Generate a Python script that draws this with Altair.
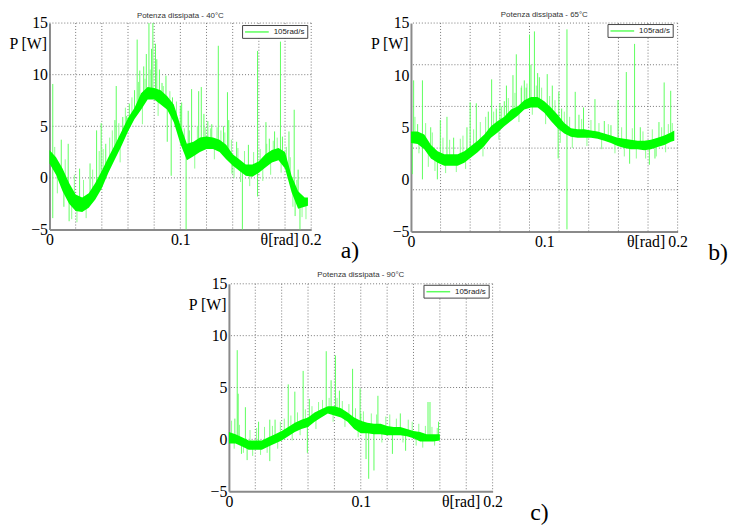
import altair as alt
import pandas as pd

# ---------------- data ----------------
THETA_AB = [0.000, 0.005, 0.010, 0.015, 0.020, 0.025, 0.030, 0.035, 0.040, 0.045,
            0.050, 0.055, 0.060, 0.065, 0.070, 0.075, 0.080, 0.085, 0.090, 0.095,
            0.100, 0.105, 0.110, 0.115, 0.120, 0.125, 0.130, 0.135, 0.140, 0.145,
            0.150, 0.155, 0.160, 0.165, 0.170, 0.175, 0.180, 0.185, 0.190, 0.195, 0.1975]
THETA_C = [0.000, 0.005, 0.010, 0.015, 0.020, 0.025, 0.030, 0.035, 0.040, 0.045,
           0.050, 0.055, 0.060, 0.065, 0.070, 0.075, 0.080, 0.085, 0.090, 0.095,
           0.100, 0.105, 0.110, 0.115, 0.120, 0.125, 0.130, 0.135, 0.140, 0.145,
           0.150, 0.155, 0.160]

# panel a) 40 °C : lower / upper edge of the dense noisy band
A_LO = [1.4, 0.3, -1.3, -2.5, -3.2, -3.3, -2.9, -2.1, -1.0, 0.5,
        1.8, 3.1, 4.5, 5.7, 6.6, 7.6, 7.6, 7.1, 6.6, 5.4,
        3.3, 1.7, 2.1, 2.5, 2.8, 2.8, 2.5, 1.8, 1.2, 0.7,
        0.2, 0.1, 0.5, 1.0, 1.5, 1.7, 0.9, -1.4, -3.0, -2.8, -2.7]
A_HI = [2.7, 2.0, 0.9, -0.5, -1.6, -1.9, -1.5, -0.5, 0.7, 2.0,
        3.2, 4.5, 5.8, 6.8, 8.2, 8.8, 8.7, 8.5, 7.9, 7.1,
        5.1, 3.3, 3.5, 3.9, 4.0, 3.9, 3.7, 3.2, 2.3, 1.8,
        1.3, 1.3, 1.6, 2.3, 2.7, 2.9, 2.5, 0.2, -1.3, -1.9, -1.9]
# isolated spikes: (theta, foot, tip)
A_SPIKES = [(0.0025, 1.2, 9.1), (0.0025, 1.2, -3.9), (0.009, 0.0, 3.7), (0.0143, -1.5, 3.3),
            (0.015, -1.5, -4.2), (0.011, -0.5, -2.8), (0.023, -2.6, 0.9), (0.031, -2.2, 1.4),
            (0.036, -1.2, 4.6), (0.0395, -0.2, 5.3), (0.043, 0.6, 3.3), (0.050, 2.4, 5.6),
            (0.051, 2.5, 8.9), (0.056, 3.8, 5.9), (0.059, 4.8, 6.0), (0.061, 5.2, 7.2),
            (0.065, 6.2, 8.5), (0.067, 6.2, 13.4), (0.069, 6.8, 10.4), (0.072, 7.6, 10.8),
            (0.074, 8.0, 12.0), (0.076, 8.2, 15.0), (0.078, 8.2, 12.5), (0.079, 8.2, 15.0),
            (0.081, 8.2, 13.0), (0.082, 8.0, 11.5), (0.084, 7.9, 10.5), (0.086, 7.8, 9.2),
            (0.089, 7.4, 9.9), (0.090, 7.2, 3.5), (0.093, 6.6, 0.2), (0.094, 6.5, 7.8),
            (0.100, 4.2, 7.0), (0.101, 3.8, 7.3), (0.1044, 2.5, -5.0), (0.106, 2.5, 6.5),
            (0.1086, 2.7, 8.6), (0.114, 3.1, 8.4), (0.116, 3.2, 8.8), (0.118, 3.3, 6.2),
            (0.121, 3.4, 5.5), (0.124, 3.4, 5.2), (0.129, 3.2, 12.8), (0.133, 2.8, 5.0),
            (0.136, 2.4, 8.3), (0.137, 2.2, 5.6), (0.1395, 1.9, 0.4), (0.143, 1.5, 3.5),
            (0.1474, 1.0, -5.0), (0.152, 0.8, 3.2), (0.159, 1.0, 12.3), (0.159, 1.0, -1.8),
            (0.1654, 1.6, 5.4), (0.168, 1.8, 3.8), (0.172, 2.0, 4.5), (0.1765, 2.3, 13.2),
            (0.178, 2.0, 4.0), (0.183, 0.0, 4.5), (0.187, -1.0, 6.6), (0.1877, -1.5, -3.7),
            (0.190, -2.0, 0.8), (0.1914, -2.2, -5.0)]
# small noise excursions around the band: (theta, foot, tip)
A_FRINGE = [(0.004, 1.0, 3.0), (0.006, 0.5, -1.5), (0.012, -1.0, 1.8), (0.017, -2.0, -4.0),
            (0.019, -2.5, 0.3), (0.021, -2.5, -4.3), (0.026, -2.6, -0.2), (0.028, -2.5, -3.9),
            (0.033, -1.8, 0.8), (0.038, -0.5, 2.6), (0.041, 0.0, 2.8), (0.046, 1.2, 3.9),
            (0.048, 1.8, 4.6), (0.053, 3.0, 5.3), (0.054, 3.4, 1.5), (0.058, 4.5, 6.8),
            (0.063, 5.6, 7.8), (0.068, 6.5, 9.3), (0.071, 7.2, 5.2), (0.073, 7.8, 9.6),
            (0.077, 8.0, 10.5), (0.083, 8.0, 6.0), (0.087, 7.5, 8.9), (0.092, 6.8, 8.4),
            (0.097, 5.5, 7.4), (0.103, 2.5, 4.8), (0.107, 2.5, 4.6), (0.111, 2.8, 0.9),
            (0.113, 2.9, 5.0), (0.119, 3.3, 4.9), (0.123, 3.4, 4.8), (0.126, 3.3, 1.8),
            (0.128, 3.2, 4.9), (0.131, 3.0, 4.6), (0.134, 2.6, 4.4), (0.139, 2.0, 3.7),
            (0.141, 1.7, 0.0), (0.144, 1.3, 2.9), (0.146, 1.2, -0.4), (0.149, 0.8, 2.6),
            (0.153, 0.7, -0.8), (0.156, 0.7, 2.5), (0.161, 1.0, 2.8), (0.163, 1.3, -0.3),
            (0.166, 1.6, 3.3), (0.169, 1.9, 0.3), (0.171, 2.1, 3.6), (0.174, 2.3, 3.9),
            (0.177, 2.2, 0.5), (0.181, 1.5, 3.0), (0.184, -0.5, 2.0), (0.186, -1.0, -2.8),
            (0.189, -2.0, -0.2), (0.193, -2.4, -3.8), (0.196, -2.3, -4.0)]

# panel b) 65 °C
B_LO = [3.5, 3.4, 2.9, 2.0, 1.6, 1.3, 1.3, 1.3, 1.6, 2.1,
        2.6, 3.2, 4.0, 4.5, 5.1, 5.6, 6.1, 6.7, 6.9, 6.9,
        6.4, 5.6, 4.9, 4.4, 4.1, 4.0, 4.0, 4.0, 3.9, 3.7,
        3.5, 3.2, 3.0, 2.9, 2.9, 2.8, 2.9, 3.1, 3.3, 3.6, 3.7]
B_HI = [4.6, 4.6, 4.3, 3.3, 2.7, 2.4, 2.4, 2.4, 2.7, 3.2,
        3.7, 4.3, 5.1, 5.6, 6.0, 6.7, 7.0, 7.6, 7.9, 7.9,
        7.5, 6.9, 6.2, 5.4, 4.9, 4.8, 4.8, 4.7, 4.6, 4.4,
        4.2, 4.0, 3.9, 3.8, 3.7, 3.7, 3.8, 4.0, 4.2, 4.5, 4.7]
B_SPIKES = [(0.001, 4.0, 0.5), (0.002, 4.0, 9.5), (0.005, 4.0, 5.3), (0.0086, 3.6, 9.5),
            (0.0086, 3.6, 0.0), (0.0148, 2.7, 5.0), (0.0198, 2.2, 0.0), (0.022, 2.0, 5.7),
            (0.027, 1.9, 6.0), (0.032, 1.9, 4.0), (0.042, 2.4, 5.0), (0.0444, 2.7, 7.4),
            (0.049, 3.2, 7.3), (0.058, 4.3, 6.5), (0.0605, 4.6, 9.6), (0.064, 4.9, 6.8),
            (0.0667, 5.2, 7.3), (0.070, 5.5, 7.5), (0.0716, 5.8, 9.0), (0.0765, 6.2, 10.0),
            (0.079, 6.5, 12.0), (0.0827, 7.0, 8.8), (0.085, 7.1, 9.5), (0.0864, 7.2, 8.8),
            (0.0889, 7.4, 13.9), (0.090, 7.4, 11.0), (0.0926, 7.4, 14.2), (0.095, 7.4, 10.2),
            (0.0963, 7.3, 9.8), (0.1022, 6.6, 10.1), (0.106, 6.2, 9.0), (0.1104, 5.5, 2.0),
            (0.1109, 5.4, 8.4), (0.113, 5.0, 6.8), (0.117, 4.7, 14.4), (0.117, 4.7, -4.8),
            (0.1232, 4.4, 8.4), (0.126, 4.4, 6.2), (0.1294, 4.4, 6.9), (0.138, 4.2, 7.7),
            (0.145, 4.0, 5.6), (0.150, 3.8, 5.2), (0.1553, 3.6, 7.6), (0.1615, 3.4, 10.3),
            (0.164, 3.4, 1.5), (0.1677, 3.3, 13.0), (0.172, 3.3, 5.0), (0.1788, 3.2, 1.4),
            (0.183, 3.4, 2.0), (0.186, 3.5, 5.5), (0.1899, 3.7, 9.3), (0.1948, 4.0, 8.5)]
B_FRINGE = [(0.003, 4.0, 6.0), (0.006, 4.0, 2.5), (0.011, 3.6, 5.4), (0.013, 3.0, 1.2),
            (0.016, 2.6, 4.5), (0.018, 2.3, 0.8), (0.024, 1.9, 4.0), (0.026, 1.9, 0.6),
            (0.029, 1.9, 3.8), (0.034, 1.9, 0.7), (0.037, 2.0, 3.9), (0.039, 2.1, 4.2),
            (0.041, 2.2, 1.0), (0.047, 3.0, 4.8), (0.052, 3.4, 5.5), (0.054, 3.7, 2.2),
            (0.056, 4.0, 6.0), (0.062, 4.8, 6.5), (0.066, 5.1, 3.8), (0.068, 5.4, 7.0),
            (0.073, 5.9, 7.8), (0.078, 6.4, 8.3), (0.081, 6.8, 5.5), (0.083, 7.0, 9.0),
            (0.087, 7.3, 9.2), (0.091, 7.4, 6.2), (0.094, 7.4, 9.0), (0.098, 7.2, 8.8),
            (0.101, 6.8, 5.3), (0.104, 6.4, 8.0), (0.108, 5.8, 7.6), (0.112, 5.1, 3.5),
            (0.115, 4.9, 6.5), (0.119, 4.6, 6.0), (0.121, 4.5, 3.0), (0.128, 4.4, 5.8),
            (0.132, 4.4, 3.2), (0.135, 4.3, 5.7), (0.141, 4.1, 5.4), (0.143, 4.1, 2.9),
            (0.148, 3.9, 5.3), (0.153, 3.7, 2.5), (0.158, 3.5, 5.0), (0.160, 3.4, 2.2),
            (0.166, 3.3, 4.9), (0.169, 3.3, 2.0), (0.174, 3.2, 4.6), (0.176, 3.2, 2.0),
            (0.181, 3.3, 4.8), (0.184, 3.4, 2.2), (0.188, 3.6, 5.0), (0.191, 3.8, 2.6),
            (0.193, 3.9, 5.3), (0.196, 4.1, 5.4)]

# panel c) 90 °C
C_LO = [-0.4, -0.4, -0.7, -1.0, -1.0, -1.0, -0.7, -0.4, -0.1, 0.3,
        0.7, 1.0, 1.2, 1.7, 2.1, 2.5, 2.3, 2.1, 1.7, 1.0,
        0.6, 0.6, 0.5, 0.5, 0.4, 0.4, 0.4, 0.3, 0.1, -0.2,
        -0.2, -0.2, -0.1]
C_HI = [0.7, 0.5, 0.2, -0.1, -0.1, -0.1, 0.2, 0.5, 0.8, 1.2,
        1.6, 1.9, 2.1, 2.6, 2.9, 3.2, 3.2, 3.0, 2.6, 2.1,
        1.8, 1.6, 1.5, 1.5, 1.3, 1.2, 1.2, 1.0, 0.8, 0.7,
        0.5, 0.5, 0.5]
C_SPIKES = [(0.0045, 0.2, 2.0), (0.0063, 0.1, 8.6), (0.007, 0.1, 4.4), (0.0095, -0.2, -1.4),
            (0.0125, -0.4, 3.1), (0.0138, -0.5, -2.0), (0.0225, -0.5, 1.7), (0.031, -0.3, 1.9),
            (0.031, -0.3, -2.1), (0.035, 0.0, 1.9), (0.045, 0.7, 5.3), (0.050, 1.1, 4.6),
            (0.0563, 1.5, 6.6), (0.0595, 1.7, -1.3), (0.061, 1.7, 3.9), (0.0738, 2.8, 8.5),
            (0.0775, 2.8, 5.7), (0.0808, 2.8, 8.1), (0.0838, 2.6, 4.7), (0.0938, 1.7, 6.8),
            (0.0995, 1.2, 4.9), (0.100, 1.2, 2.5), (0.104, 1.1, -1.9), (0.106, 1.1, -3.8),
            (0.110, 1.0, -3.0), (0.113, 1.0, 4.2), (0.124, 0.8, -1.4), (0.130, 0.8, 2.5),
            (0.134, 0.7, -1.1), (0.151, 0.2, 3.6), (0.1525, 0.2, 3.6), (0.159, 0.3, 1.7)]
C_FRINGE = [(0.002, 0.2, 1.8), (0.004, 0.1, -0.9), (0.008, -0.1, 1.4), (0.011, -0.3, -1.3),
            (0.016, -0.5, 0.9), (0.018, -0.5, -1.6), (0.021, -0.5, 1.1), (0.024, -0.5, -1.5),
            (0.027, -0.4, 1.2), (0.029, -0.4, -1.3), (0.033, -0.2, 1.3), (0.037, 0.1, -0.9),
            (0.039, 0.2, 1.7), (0.042, 0.4, 2.0), (0.047, 0.9, 2.3), (0.048, 1.0, -0.1),
            (0.052, 1.2, 2.6), (0.054, 1.4, 0.4), (0.058, 1.6, 2.9), (0.063, 1.9, 3.2),
            (0.066, 2.1, 1.0), (0.068, 2.3, 3.6), (0.071, 2.5, 3.8), (0.076, 2.8, 4.0),
            (0.079, 2.8, 1.7), (0.082, 2.7, 4.0), (0.086, 2.5, 3.7), (0.088, 2.3, 1.2),
            (0.091, 2.1, 3.4), (0.096, 1.5, 3.0), (0.098, 1.3, 0.2), (0.102, 1.2, 2.7),
            (0.108, 1.1, 2.5), (0.112, 1.0, 2.4), (0.116, 1.0, -0.3), (0.119, 0.9, 2.2),
            (0.122, 0.9, 2.4), (0.127, 0.8, 2.0), (0.132, 0.8, -0.3), (0.136, 0.7, 1.9),
            (0.139, 0.6, 1.7), (0.142, 0.5, -0.6), (0.144, 0.3, 1.5), (0.147, 0.2, -0.8),
            (0.149, 0.2, 1.3), (0.154, 0.2, 1.2), (0.156, 0.2, -0.6), (0.158, 0.2, 1.1)]

SERIES = "105rad/s"
GRID_X_STD = [0.02, 0.04, 0.06, 0.08, 0.10, 0.12, 0.14, 0.16, 0.18, 0.20]
GRID_Y_STD = [0, 5, 10, 15]
GRID_X_B = [0.0222, 0.0444, 0.0667, 0.0889, 0.1111, 0.1333, 0.1556, 0.1778, 0.2000]
GRID_Y_B = [-1, 3, 7, 11, 15]

GREEN = "#00ff00"
SPIKE_GREEN = "#5cff5c"
FRINGE_GREEN = "#8cff8c"
GRID_COLOR = "#777777"


def panel(title, theta, lo, hi, spikes, fringe, gx, gy, W, H, tag, tag_x, tag_y,
          leg_x, leg_y, title_y):
    xs = alt.Scale(domain=[0, 0.2], nice=False, zero=False)
    ys = alt.Scale(domain=[-5, 15], nice=False, zero=False)
    xax = alt.Axis(values=[0, 0.1, 0.2], format="~g", title="θ[rad]",
                   titleX=W - 13, titleY=15, titleAlign="right",
                   titleBaseline="alphabetic")
    yax = alt.Axis(values=[-5, 0, 5, 10, 15], format="d", title="P [W]",
                   titleAngle=0, titleX=-3, titleY=21, titleAlign="right",
                   titleBaseline="middle")
    X = alt.X("x:Q", scale=xs, axis=xax)
    Y = alt.Y("y:Q", scale=ys, axis=yax)

    band_df = pd.DataFrame({"x": theta, "y": lo, "y2": hi})
    sp_df = pd.DataFrame({"x": [s[0] for s in spikes],
                          "y": [s[1] for s in spikes],
                          "y2": [s[2] for s in spikes],
                          "s": [SERIES] * len(spikes)})
    fr_df = pd.DataFrame({"x": [s[0] for s in fringe],
                          "y": [s[1] for s in fringe],
                          "y2": [s[2] for s in fringe]})
    gx_df = pd.DataFrame({"x": gx})
    gy_df = pd.DataFrame({"y": gy})

    grid_x = alt.Chart(gx_df).mark_rule(color=GRID_COLOR, strokeDash=[1, 2],
                                        strokeWidth=1).encode(x=X)
    grid_y = alt.Chart(gy_df).mark_rule(color=GRID_COLOR, strokeDash=[1, 2],
                                        strokeWidth=1).encode(y=Y)
    fr = alt.Chart(fr_df).mark_rule(strokeWidth=1, color=FRINGE_GREEN).encode(
        x=X, y=Y, y2="y2:Q")
    spk = alt.Chart(sp_df).mark_rule(strokeWidth=1).encode(
        x=X, y=Y, y2="y2:Q",
        color=alt.Color("s:N", scale=alt.Scale(range=[SPIKE_GREEN]),
                        legend=alt.Legend(
                            title=None, orient="none", legendX=leg_x, legendY=leg_y,
                            symbolType="M-1.5,0H4.5", symbolSize=64,
                            symbolStrokeWidth=1.5, symbolOffset=2, labelOffset=18,
                            padding=2, strokeColor="#444444", fillColor="white",
                            cornerRadius=0, labelFont="Liberation Sans",
                            labelFontSize=8, labelColor="#222222")))
    band = alt.Chart(band_df).mark_area(color=GREEN, opacity=1).encode(
        x=X, y=Y, y2="y2:Q")
    lbl = alt.Chart(pd.DataFrame({"t": [tag]})).mark_text(
        font="Liberation Serif", fontSize=24, align="left", baseline="alphabetic",
        color="black").encode(text="t:N", x=alt.value(tag_x), y=alt.value(tag_y))
    ttl = alt.Chart(pd.DataFrame({"t": [title]})).mark_text(
        font="Liberation Sans", fontSize=8, align="center", baseline="alphabetic",
        color="#333333").encode(text="t:N", x=alt.value(W / 2), y=alt.value(title_y))

    return alt.layer(grid_x, grid_y, fr, spk, band, lbl, ttl).properties(
        width=W, height=H)


pa = panel("Potenza dissipata - 40°C", THETA_AB, A_LO, A_HI, A_SPIKES, A_FRINGE,
           GRID_X_STD, GRID_Y_STD, 265, 209, "a)", 295, 238, 195, 2, -5)
pb = panel("Potenza dissipata - 65°C", THETA_AB, B_LO, B_HI, B_SPIKES, B_FRINGE,
           GRID_X_B, GRID_Y_B, 270, 211, "b)", 301, 240, 199, 1, -6)
pc = panel("Potenza dissipata - 90°C", THETA_C, C_LO, C_HI, C_SPIKES, C_FRINGE,
           GRID_X_STD, GRID_Y_STD, 267, 210, "c)", 305, 239, 197, 1, -7)

top = alt.hconcat(pa, pb, spacing=10).resolve_scale(
    x="independent", y="independent", color="independent").resolve_legend(
    color="independent")

chart = alt.vconcat(top, pc, spacing=6, center=True).resolve_scale(
    x="independent", y="independent", color="independent").resolve_legend(
    color="independent").properties(padding=0, background="white").configure_view(
    stroke=None).configure_axis(
    labelFont="Liberation Serif", labelFontSize=16, labelColor="black",
    titleFont="Liberation Serif", titleFontSize=16, titleFontWeight="normal",
    titleColor="black", domainColor="#8a8a8a", domainWidth=2, ticks=False,
    grid=False, labelPadding=2, labelFlush=False, labelOverlap=False)

chart.save("out.html", embed_options={"renderer": "svg", "actions": False})
